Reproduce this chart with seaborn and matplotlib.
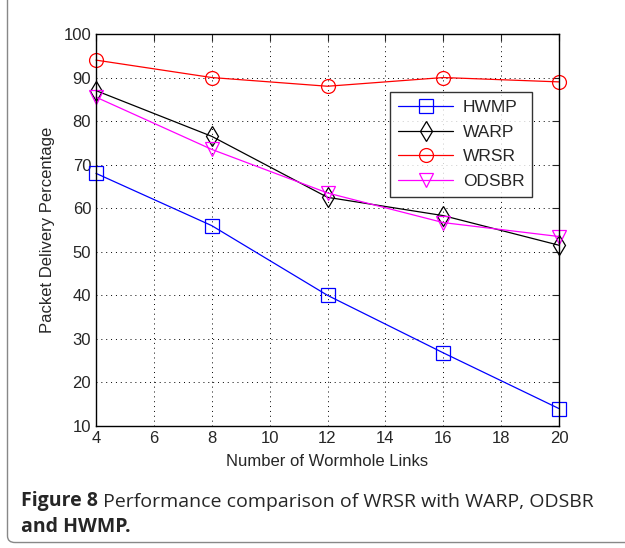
import pandas as pd
import matplotlib
matplotlib.use('Agg')
import matplotlib.pyplot as plt
from matplotlib.patches import FancyBboxPatch
import seaborn as sns

# data
links = [4, 8, 12, 16, 20]
hwmp = [68, 56, 40, 26.8, 14]
warp = [87, 76.5, 62.5, 58.3, 51.5]
wrsr = [94, 90, 88, 90, 89]
odsbr = [85.5, 73.5, 63.5, 56.7, 53.5]

series = ['HWMP', 'WARP', 'WRSR', 'ODSBR']
colors = {'HWMP': 'blue', 'WARP': 'black', 'WRSR': 'red', 'ODSBR': 'magenta'}
markers = {'HWMP': 's', 'WARP': 'd', 'WRSR': 'o', 'ODSBR': 'v'}

df = pd.DataFrame({
    'links': links * 4,
    'pdr': hwmp + warp + wrsr + odsbr,
    'protocol': [s for s in series for _ in links],
})

sns.set_style('white')
plt.rcParams['font.family'] = ['Liberation Sans', 'DejaVu Sans']

fig = plt.figure(figsize=(6.25, 5.48), dpi=100)
ax = fig.add_axes([0.1536, 0.2226, 0.7408, 0.7154])

sns.lineplot(data=df, x='links', y='pdr', hue='protocol', style='protocol',
             hue_order=series, style_order=series, palette=colors,
             markers=markers, dashes=False, linewidth=0.9, markersize=10,
             markeredgewidth=0.9, ax=ax)
# hollow markers in the line colour, not clipped at the frame
for line in ax.get_lines():
    line.set_markeredgecolor(line.get_color())
    line.set_markerfacecolor('none')
    line.set_clip_on(False)

ax.set_xlim(4, 20)
ax.set_ylim(10, 100)
ax.set_xticks(range(4, 21, 2))
ax.set_yticks(range(10, 101, 10))
ax.grid(True, color='black', linestyle=(0, (1, 4)), linewidth=0.7)
ax.tick_params(direction='in', top=True, right=True, labelsize=12, length=5, width=0.8)
for sp in ax.spines.values():
    sp.set_visible(True)
    sp.set_color('black')
    sp.set_linewidth(1.0)

ax.set_xlabel('Number of Wormhole Links', fontsize=12, labelpad=6)
ax.set_ylabel('Packet Delivery Percentage', fontsize=12, labelpad=6)

handles, labels = ax.get_legend_handles_labels()
for h in handles:
    h.set_markeredgecolor(h.get_color())
    h.set_markerfacecolor('none')
leg = ax.legend(handles, labels, loc='upper left', bbox_to_anchor=(0.635, 0.852),
                fontsize=12.5, frameon=True, fancybox=False, edgecolor='black',
                borderaxespad=0, handlelength=3.2, handletextpad=0.55,
                labelspacing=0.55, borderpad=0.45)
leg.get_frame().set_linewidth(1.0)
leg.set_zorder(5)

cap_font = ['Open Sans', 'DejaVu Sans']
head = fig.text(0.034, 0.077, 'Figure 8', fontsize=14, family=cap_font, weight='bold')
ax.annotate(' Performance comparison of WRSR with WARP, ODSBR', xy=(1, 0),
            xycoords=head, va='bottom', ha='left', fontsize=14, family=cap_font,
            annotation_clip=False)
fig.text(0.034, 0.030, 'and HWMP.', fontsize=14, family=cap_font, weight='bold')

border = FancyBboxPatch((0.012, 0.01), 1.2, 1.2, boxstyle='round,pad=0,rounding_size=0.012',
                        transform=fig.transFigure, fill=False, edgecolor='#888888',
                        linewidth=1.0)
fig.patches.append(border)

fig.savefig('out.png', dpi=100)
